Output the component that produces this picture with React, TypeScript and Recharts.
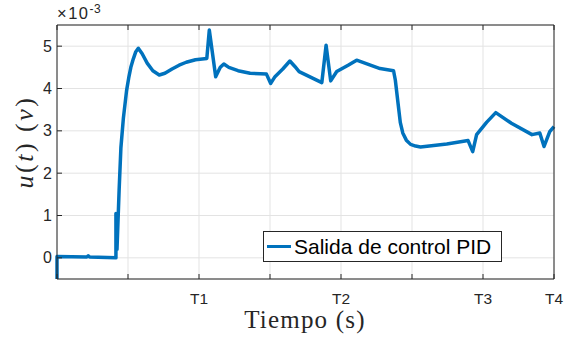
import React from 'react';
import { LineChart, Line, XAxis, YAxis, CartesianGrid, Legend } from 'recharts';

const time = [0, 0, 0.42, 0.44, 0.46, 0.83, 0.83, 0.845, 0.875, 0.9, 0.935, 0.98, 1.01, 1.04, 1.075, 1.11, 1.145, 1.2, 1.27, 1.35, 1.44, 1.52, 1.62, 1.72, 1.82, 1.95, 2.11, 2.145, 2.235, 2.3, 2.35, 2.42, 2.55, 2.72, 2.95, 3.01, 3.07, 3.18, 3.28, 3.35, 3.41, 3.73, 3.79, 3.855, 3.94, 4.1, 4.22, 4.55, 4.74, 4.765, 4.8, 4.835, 4.87, 4.92, 4.98, 5.05, 5.12, 5.49, 5.79, 5.855, 5.91, 6.05, 6.18, 6.4, 6.69, 6.8, 6.86, 6.94, 7.0];
const control = [-0.5, 0.03, 0.02, 0.05, 0.02, 0.0, 1.05, 0.2, 1.6, 2.6, 3.3, 3.95, 4.25, 4.5, 4.7, 4.87, 4.95, 4.82, 4.6, 4.42, 4.32, 4.36, 4.46, 4.55, 4.62, 4.68, 4.71, 5.38, 4.28, 4.5, 4.58, 4.5, 4.42, 4.36, 4.34, 4.12, 4.28, 4.46, 4.65, 4.52, 4.4, 4.14, 5.02, 4.18, 4.4, 4.55, 4.67, 4.47, 4.42, 4.2, 3.7, 3.2, 2.95, 2.78, 2.68, 2.64, 2.62, 2.69, 2.77, 2.51, 2.91, 3.2, 3.43, 3.18, 2.91, 2.95, 2.63, 2.98, 3.1];

const xTicks = [0, 1, 2, 3, 4, 5, 6, 7];
const xTickLabels = ['', '', 'T1', '', 'T2', '', 'T3', 'T4'];
const yTicks = [0, 1, 2, 3, 4, 5];
const yTickLabels = ['0', '1', '2', '3', '4', '5'];
const seriesName = 'Salida de control PID';
const xLabel = 'Tiempo (s)';
const exponentBase = '×10';
const exponentPower = '-3';

const data = time.map((t, i) => ({ t, u: control[i] }));

const AX = '#262626';
const BLUE = '#0072BD';
const SANS = '"Liberation Sans", Arial, Helvetica, sans-serif';
const SERIF = '"Liberation Serif", "Times New Roman", serif';
const TICK = 5;

const BottomTick = (p: any) => {
  const i = xTicks.indexOf(p.payload.value);
  return (
    <g>
      <line x1={p.x} x2={p.x} y1={p.y} y2={p.y - TICK} stroke={AX} strokeWidth={1} />
      <text x={p.x} y={p.y + 19} textAnchor="middle" dominantBaseline="central" fontSize={15.5} fill={AX} fontFamily={SANS}>
        {xTickLabels[i]}
      </text>
    </g>
  );
};

const TopTick = (p: any) => (
  <line x1={p.x} x2={p.x} y1={p.y} y2={p.y + TICK} stroke={AX} strokeWidth={1} />
);

const LeftTick = (p: any) => {
  const i = yTicks.indexOf(p.payload.value);
  return (
    <g>
      <line x1={p.x} x2={p.x + TICK} y1={p.y} y2={p.y} stroke={AX} strokeWidth={1} />
      <text x={p.x - 5} y={p.y} textAnchor="end" dominantBaseline="central" fontSize={16} fill={AX} fontFamily={SANS}>
        {yTickLabels[i]}
      </text>
    </g>
  );
};

const RightTick = (p: any) => (
  <line x1={p.x} x2={p.x - TICK} y1={p.y} y2={p.y} stroke={AX} strokeWidth={1} />
);

const LegendBox = () => (
  <div
    style={{
      boxSizing: 'border-box',
      width: 239,
      height: 31,
      border: `1px solid ${AX}`,
      background: '#fff',
      display: 'flex',
      alignItems: 'center',
      fontFamily: SANS,
      fontSize: 21,
      color: '#000',
      whiteSpace: 'nowrap',
    }}
  >
    <span style={{ display: 'inline-block', width: 24, height: 3, background: BLUE, marginLeft: 3, marginRight: 3 }} />
    <span>{seriesName}</span>
  </div>
);

export default function App() {
  return (
    <div style={{ position: 'absolute', left: 0, top: 0, width: 571, height: 339, background: '#fff' }}>
      <LineChart width={571} height={339} data={data} margin={{ top: 0, right: 0, bottom: 0, left: 0 }}>
        <CartesianGrid stroke="#e3e3e3" strokeWidth={1} />
        <XAxis
          dataKey="t"
          type="number"
          domain={[0, 7]}
          ticks={xTicks}
          interval={0}
          height={60}
          tickSize={0}
          tickMargin={0}
          tickLine={false}
          axisLine={{ stroke: AX }}
          tick={BottomTick}
        />
        <XAxis
          xAxisId="top"
          orientation="top"
          dataKey="t"
          type="number"
          domain={[0, 7]}
          ticks={xTicks}
          interval={0}
          height={25}
          tickSize={0}
          tickMargin={0}
          tickLine={false}
          axisLine={{ stroke: AX }}
          tick={TopTick}
        />
        <YAxis
          type="number"
          domain={[-0.5, 5.5]}
          ticks={yTicks}
          interval={0}
          width={57}
          tickSize={0}
          tickMargin={0}
          tickLine={false}
          axisLine={{ stroke: AX }}
          tick={LeftTick}
        />
        <YAxis
          yAxisId="right"
          orientation="right"
          type="number"
          domain={[-0.5, 5.5]}
          ticks={yTicks}
          interval={0}
          width={17}
          tickSize={0}
          tickMargin={0}
          tickLine={false}
          axisLine={{ stroke: AX }}
          tick={RightTick}
        />
        <Legend
          layout="horizontal"
          verticalAlign="middle"
          content={LegendBox}
          wrapperStyle={{ position: 'absolute', left: 263, top: 231, width: 239, height: 31 }}
        />
        <Line
          type="linear"
          dataKey="u"
          name={seriesName}
          stroke={BLUE}
          strokeWidth={3.5}
          dot={false}
          activeDot={false}
          isAnimationActive={false}
          strokeLinejoin="round"
        />
      </LineChart>
      <div style={{ position: 'absolute', left: 57, top: 3, fontFamily: SANS, fontSize: 16.5, color: AX, whiteSpace: 'nowrap', lineHeight: '20px', letterSpacing: 1.5 }}>
        {exponentBase}
        <span style={{ fontSize: 12, position: 'relative', top: -6, letterSpacing: 0.5 }}>{exponentPower}</span>
      </div>
      <div
        style={{
          position: 'absolute',
          left: 25,
          top: 142,
          transform: 'translate(-50%, -50%) rotate(-90deg)',
          fontFamily: SERIF,
          fontSize: 26,
          color: AX,
          whiteSpace: 'nowrap',
          letterSpacing: 2.5,
          lineHeight: '28px',
        }}
      >
        <i>u</i>(<i>t</i>) (<i>v</i>)
      </div>
      <div
        style={{
          position: 'absolute',
          left: 305,
          top: 306,
          transform: 'translateX(-50%)',
          fontFamily: SERIF,
          fontSize: 25,
          color: AX,
          whiteSpace: 'nowrap',
          letterSpacing: 1.2,
          lineHeight: '28px',
        }}
      >
        {xLabel}
      </div>
    </div>
  );
}
